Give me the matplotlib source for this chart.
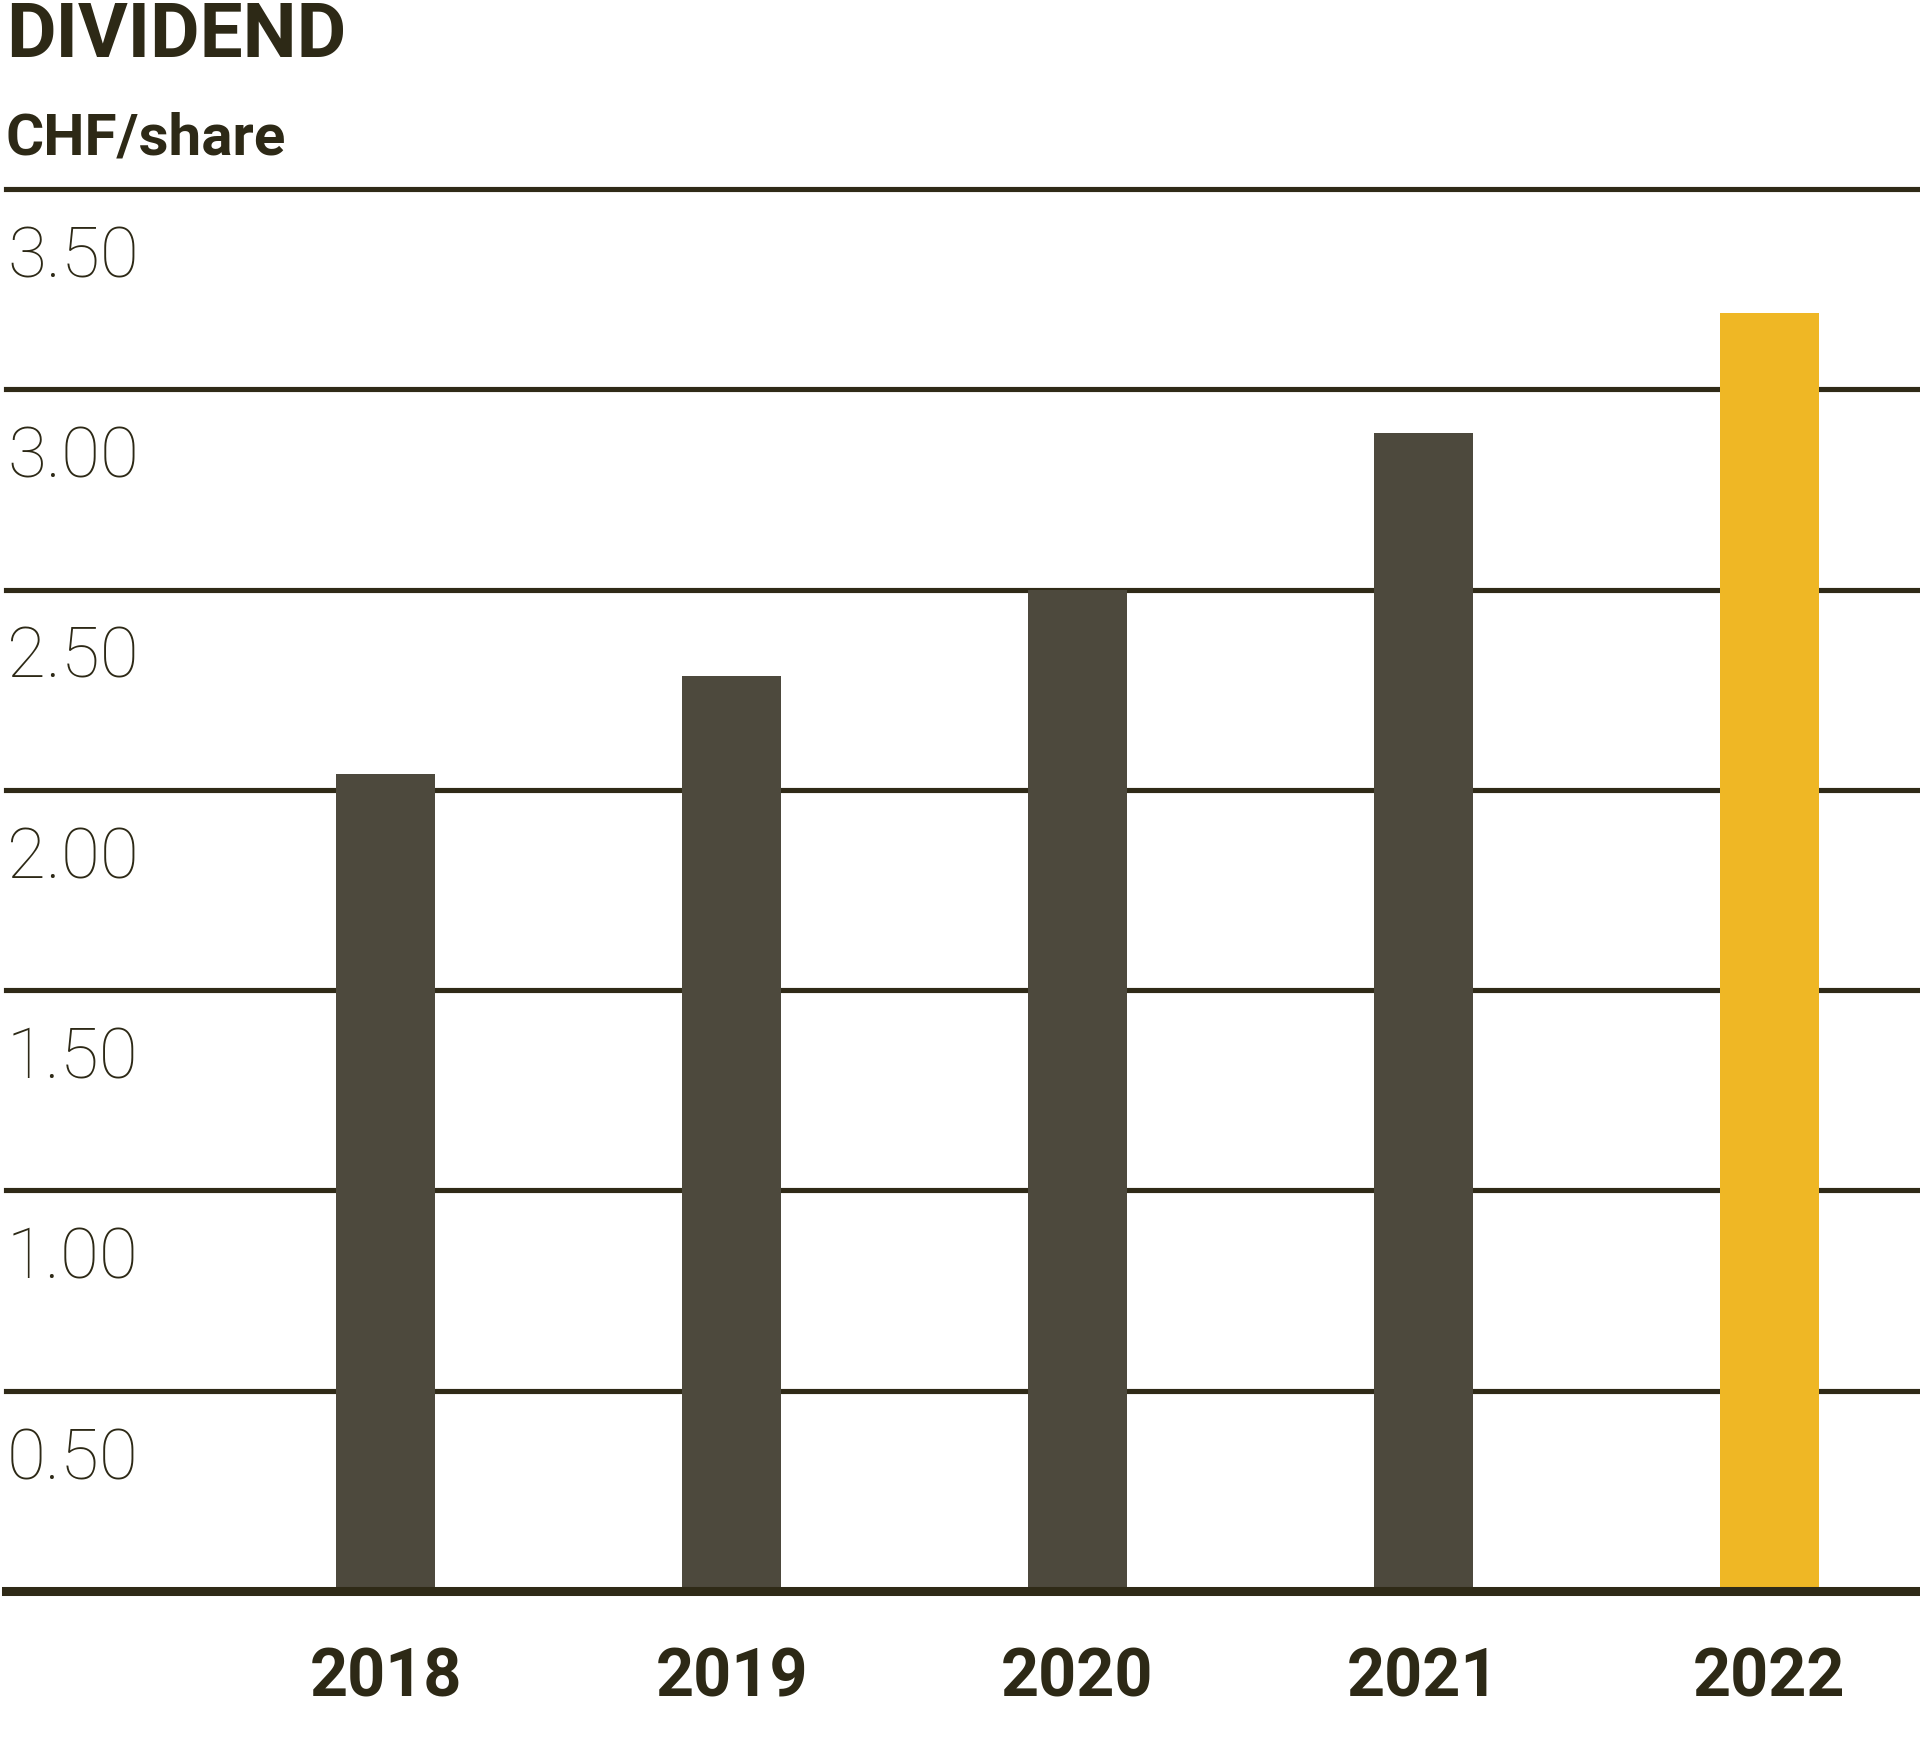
import matplotlib
matplotlib.use('Agg')
import matplotlib.pyplot as plt
from matplotlib.transforms import blended_transform_factory

# dividend per share, CHF
years = ['2018', '2019', '2020', '2021', '2022']
dividend = [2.04, 2.285, 2.50, 2.89, 3.19]
ticks = [0.5, 1.0, 1.5, 2.0, 2.5, 3.0, 3.5]
tick_labels = ['0.50', '1.00', '1.50', '2.00', '2.50', '3.00', '3.50']

dark = '#4d493d'
yellow = '#efb725'
line_col = '#2f2a17'
text_col = '#2d2916'

plt.rcParams['font.family'] = ['Roboto', 'DejaVu Sans']

fig = plt.figure(figsize=(19.2, 17.65), dpi=100)
ax = fig.add_axes([6 / 1920, (1765 - 1592) / 1765, 1 - 6 / 1920, (1592 - 190) / 1765])

x = list(range(len(years)))
colors = [dark] * (len(years) - 1) + [yellow]
ax.bar(x, dividend, width=0.287, color=colors, zorder=2)

for t in ticks:
    ax.axhline(t, color=line_col, lw=3.7, zorder=1, clip_on=False)
ax.axhline(0, color=line_col, lw=6.5, zorder=3, clip_on=False)

ax.set_xlim(-1.098, 4.436)
ax.set_ylim(0, 3.5)
ax.axis('off')

# y labels sit just below each gridline, left aligned
tr = blended_transform_factory(fig.transFigure, ax.transData)
for t, lab in zip(ticks, tick_labels):
    ax.text(7 / 1920, t - 0.218, lab, transform=tr, ha='left', va='baseline',
            fontsize=51, fontweight='light', color=text_col, clip_on=False)

for xi, yr in zip(x, years):
    ax.text(xi, -0.26, yr, ha='center', va='baseline', fontsize=48,
            fontweight='bold', color=text_col, clip_on=False)

fig.text(6 / 1920, 1 - 57 / 1765, 'DIVIDEND', ha='left', va='baseline',
         fontsize=55, fontweight='bold', color=text_col)
fig.text(6 / 1920, 1 - 155 / 1765, 'CHF/share', ha='left', va='baseline',
         fontsize=42, fontweight='bold', color=text_col)

plt.savefig('out.png', dpi=100)
